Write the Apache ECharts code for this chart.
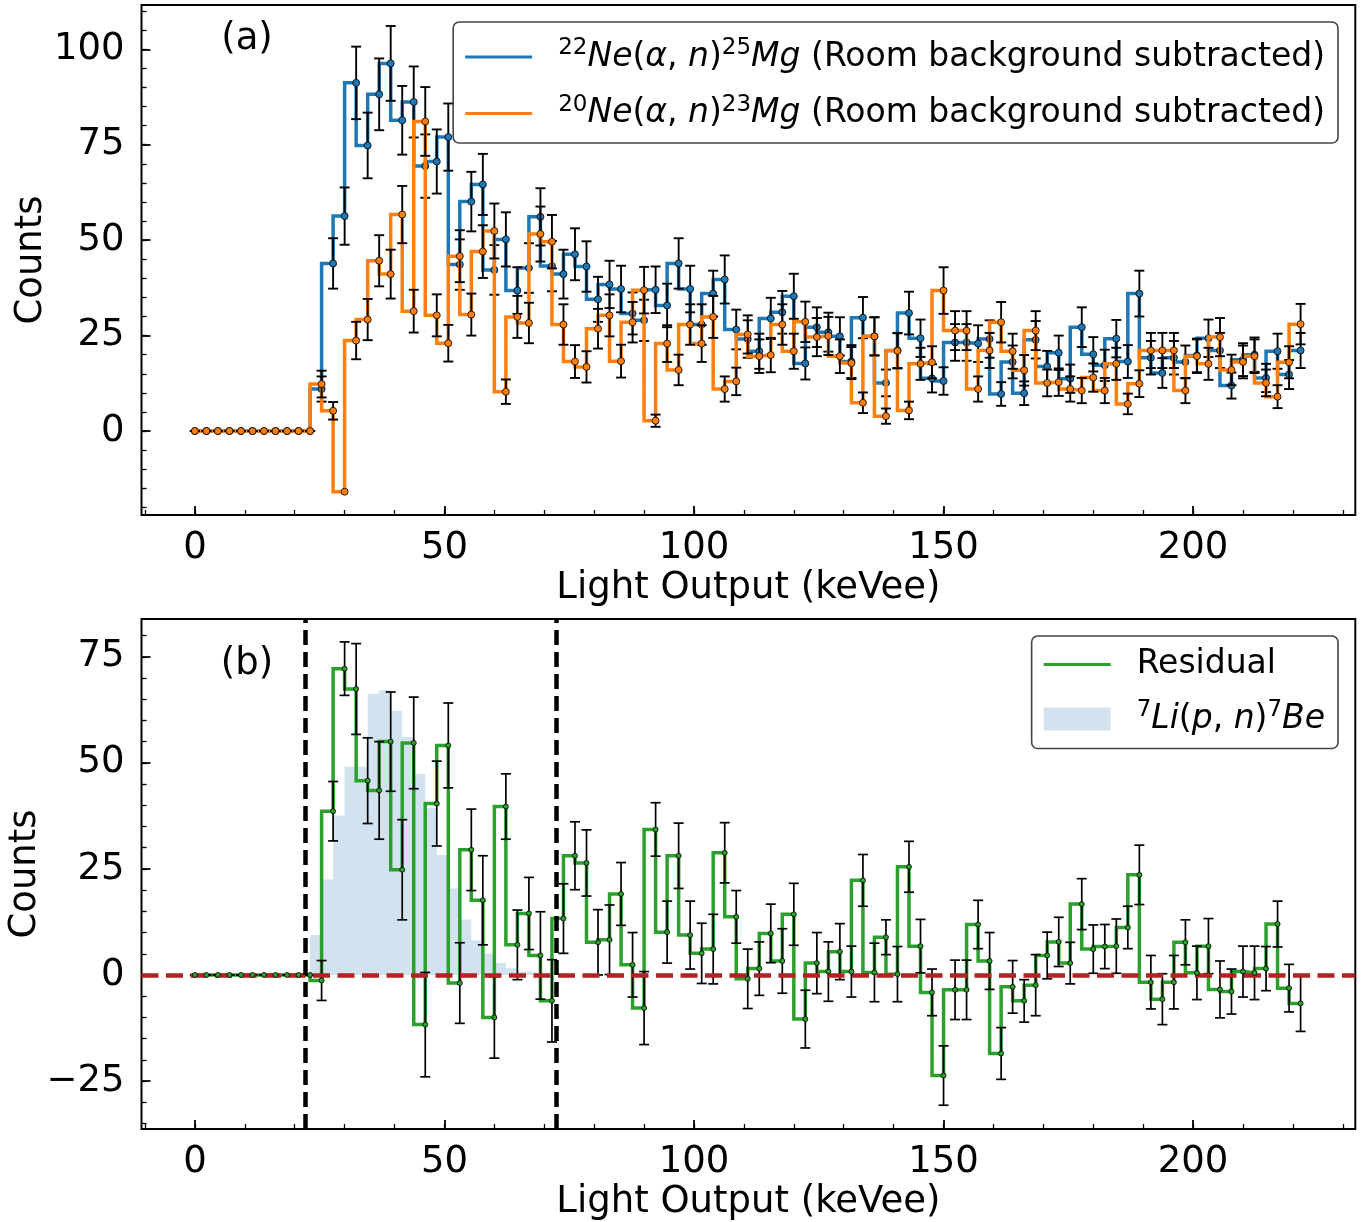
<!DOCTYPE html>
<html>
<head>
<meta charset="utf-8">
<script src="https://cdn.jsdelivr.net/npm/echarts@6/dist/echarts.min.js"></script>
<style>
html,body{margin:0;padding:0;background:#fff;}
#chart{width:1372px;height:1222px;}
</style>
</head>
<body>
<div id="chart"></div>
<script>
// ---------------- data ----------------
const binWidth = 2.3077; // keVee per bin

// 22Ne(a,n)25Mg, room background subtracted
const ne22Counts = [
  0, 0, 0, 0, 0, 0, 0, 0, 0, 0, 0,
  11.0, 43.9, 56.3, 91.2, 74.8, 88.2, 96.3, 81.4, 86.2, 69.4,
  70.6, 77.0, 43.6, 60.1, 64.6, 42.2, 50.2, 36.8, 42.7, 56.1,
  43.2, 41.1, 46.3, 43.1, 34.5, 38.4, 37.2, 30.8, 29.0, 37.0,
  32.9, 43.9, 37.2, 27.9, 36.0, 39.7, 26.6, 24.1, 20.9, 29.5,
  31.1, 35.3, 17.7, 27.2, 25.9, 24.8, 18.2, 29.7, 24.8, 12.6,
  21.1, 30.9, 24.3, 13.8, 13.1, 23.2, 23.2, 22.9, 24.1, 9.7,
  18.1, 9.9, 23.9, 16.9, 20.5, 13.7, 27.2, 20.1, 17.2, 24.2,
  18.2, 36.0, 19.2, 15.2, 19.2, 18.1, 19.8, 24.3, 21.1, 11.9,
  18.7, 20.0, 13.9, 20.9, 14.8, 21.1
];
const ne22Errors = [
  0, 0, 0, 0, 0, 0, 0, 0, 0, 0, 0,
  3.3, 6.6, 7.5, 9.5, 8.6, 9.4, 9.8, 9.0, 9.3, 8.3,
  8.4, 8.8, 6.6, 7.8, 8.0, 6.5, 7.1, 6.1, 6.5, 7.5,
  6.6, 6.4, 6.8, 6.6, 5.9, 6.2, 6.1, 5.5, 5.4, 6.1,
  5.7, 6.6, 6.1, 5.3, 6.0, 6.3, 5.2, 4.9, 4.6, 5.4,
  5.6, 5.9, 4.2, 5.2, 5.1, 5.0, 4.3, 5.4, 5.0, 3.5,
  4.6, 5.6, 4.9, 3.7, 3.6, 4.8, 4.8, 4.8, 4.9, 3.1,
  4.3, 3.1, 4.9, 4.1, 4.5, 3.7, 5.2, 4.5, 4.1, 4.9,
  4.3, 6.0, 4.4, 3.9, 4.4, 4.3, 4.4, 4.9, 4.6, 3.4,
  4.3, 4.5, 3.7, 4.6, 3.8, 4.6
];

// 20Ne(a,n)23Mg, room background subtracted
const ne20Counts = [
  0, 0, 0, 0, 0, 0, 0, 0, 0, 0, 0,
  12.3, 5.3, -15.9, 23.7, 29.2, 44.6, 41.1, 56.7, 31.4, 81.1,
  30.3, 23.0, 45.8, 30.5, 47.0, 52.4, 10.3, 29.9, 28.3, 51.6,
  49.6, 27.9, 18.2, 16.8, 26.8, 30.3, 18.3, 28.5, 36.9, 2.7,
  22.9, 16.0, 27.9, 22.9, 29.9, 11.0, 13.0, 25.3, 19.6, 19.9,
  27.9, 20.9, 28.6, 24.6, 24.9, 19.6, 17.8, 7.4, 24.8, 3.9,
  21.0, 5.4, 17.6, 18.0, 36.8, 26.3, 26.3, 11.0, 21.1, 28.5,
  20.9, 15.9, 26.3, 12.6, 12.8, 11.0, 10.6, 14.0, 10.6, 17.6,
  7.1, 12.4, 21.1, 21.1, 21.1, 10.6, 19.6, 17.6, 24.6, 16.0,
  18.1, 19.6, 12.6, 9.0, 18.0, 28.0
];
const ne20Errors = [
  0, 0, 0, 0, 0, 0, 0, 0, 0, 0, 0,
  3.5, 2.3, null, 4.9, 5.4, 6.7, 6.4, 7.5, 5.6, 9.0,
  5.5, 4.8, 6.8, 5.5, 6.9, 7.2, 3.2, 5.5, 5.3, 7.2,
  7.0, 5.3, 4.3, 4.1, 5.2, 5.5, 4.3, 5.3, 6.1, 1.6,
  4.8, 4.0, 5.3, 4.8, 5.5, 3.3, 3.6, 5.0, 4.4, 4.5,
  5.3, 4.6, 5.3, 5.0, 5.0, 4.4, 4.2, 2.7, 5.0, 2.0,
  4.6, 2.3, 4.2, 4.2, 6.1, 5.1, 5.1, 3.3, 4.6, 5.3,
  4.6, 4.0, 5.1, 3.5, 3.6, 3.3, 3.3, 3.7, 3.3, 4.2,
  2.7, 3.5, 4.6, 4.6, 4.6, 3.3, 4.4, 4.2, 5.0, 4.0,
  4.3, 4.4, 3.5, 3.0, 4.2, 5.3
];

// Residual (panel b)
const residualCounts = [
  0, 0, 0, 0, 0, 0, 0, 0, 0, 0, 0,
  -1.3, 38.6, 72.2, 67.4, 45.8, 43.5, 55.0, 24.8, 54.7, -11.7,
  40.4, 54.1, -1.9, 29.5, 17.6, -10.0, 39.7, 7.1, 14.5, 4.6,
  -6.1, 13.3, 28.1, 26.4, 7.7, 8.3, 19.1, 2.4, -7.8, 34.3,
  10.1, 28.1, 9.4, 5.1, 6.1, 28.8, 13.7, -0.9, 1.5, 9.8,
  3.3, 14.3, -10.4, 2.8, 0.8, 5.5, 0.8, 22.3, 0.6, 8.9,
  0.2, 25.5, 6.8, -4.1, -23.7, -3.5, -3.5, 11.9, 3.3, -18.5,
  -2.8, -6.1, -2.4, 4.6, 7.8, 2.8, 16.7, 6.1, 6.7, 6.8,
  11.2, 23.6, -1.7, -5.7, -1.7, 7.7, 0.5, 6.8, -3.4, -3.9,
  0.8, 0.5, 1.5, 12.0, -3.1, -6.7
];
const residualErrors = [
  0, 0, 0, 0, 0, 0, 0, 0, 0, 0, 0,
  4.7, 7.0, 6.3, 10.7, 10.1, 11.5, 11.7, 11.8, 10.8, 12.3,
  10.0, 10.0, 9.5, 9.6, 10.5, 9.6, 7.7, 8.2, 8.5, 10.3,
  9.7, 8.2, 8.0, 7.8, 7.7, 8.2, 7.4, 7.6, 8.6, 6.3,
  7.3, 7.7, 8.0, 7.1, 8.2, 7.1, 6.2, 7.0, 6.3, 6.9,
  7.6, 7.3, 6.8, 7.2, 7.0, 6.6, 6.0, 6.1, 6.9, 4.1,
  6.5, 6.0, 6.3, 5.5, 7.0, 7.0, 7.0, 5.7, 6.7, 6.1,
  6.2, 5.0, 7.2, 5.5, 5.8, 4.9, 6.0, 5.7, 5.2, 6.4,
  5.0, 7.0, 6.3, 6.0, 6.3, 5.3, 6.3, 6.5, 6.7, 5.3,
  6.0, 6.3, 5.2, 5.4, 5.6, 6.6
];

// 7Li(p,n)7Be reference shape (bins 0..32)
const li7Counts = [
  0, 0, 0, 0, 0, 0, 0, 0, 0, 0, 0,
  9.4, 22.5, 37.6, 49.1, 49.1, 66.3, 67.1, 62.3, 56.1, 47.4,
  39.3, 28.3, 20.4, 13.1, 8.1, 5.0, 2.8, 1.6, 0.8, 0.4,
  0.2, 0
];

// region boundaries (vertical dashed lines, keVee)
const regionBounds = [22.2, 72.5];

// ticks
const xTickValues = [0, 50, 100, 150, 200];
const xMinorTickValues = [-10, 0, 10, 20, 30, 40, 50, 60, 70, 80, 90, 100, 110, 120, 130, 140, 150, 160, 170, 180, 190, 200, 210, 220, 230];
const yTickValuesA = [0, 25, 50, 75, 100];
const yMinorTickValuesA = [-20, -15, -10, -5, 0, 5, 10, 15, 20, 25, 30, 35, 40, 45, 50, 55, 60, 65, 70, 75, 80, 85, 90, 95, 100, 105, 110];
const yTickValuesB = [-25, 0, 25, 50, 75];
const yMinorTickValuesB = [-35, -30, -25, -20, -15, -10, -5, 0, 5, 10, 15, 20, 25, 30, 35, 40, 45, 50, 55, 60, 65, 70, 75, 80];

// ---------------- chart ----------------
const F = 'DejaVu Sans';
const lightOutput = ne22Counts.map((_, i) => Math.round(i * binWidth * 10000) / 10000);

const NAME_NE22 = '22Ne(α,n)25Mg (Room background subtracted)';
const NAME_NE20 = '20Ne(α,n)23Mg (Room background subtracted)';
const NAME_RES = 'Residual';
const NAME_LI = '7Li(p,n)7Be';

const X_RANGE = [-10.7, 232.5];
const Y_RANGE_A = [-22.0, 111.6];
const Y_RANGE_B = [-36.3, 83.9];

function fmtTick(v) { return v < 0 ? '\u2212' + Math.abs(v) : String(v); }

function xAxesFor(gridIndex) {
  return [
    {
      gridIndex, type: 'value', min: X_RANGE[0], max: X_RANGE[1], position: 'bottom',
      axisLine: { show: false, onZero: false }, splitLine: { show: false },
      axisTick: { show: true, inside: true, length: 9, customValues: xTickValues, lineStyle: { color: '#000', width: 1.8 } },
      axisLabel: { show: true, customValues: xTickValues, formatter: fmtTick, fontSize: 37, fontFamily: F, color: '#000', margin: 15 },
      name: 'Light Output (keVee)', nameLocation: 'middle', nameGap: 55,
      nameTextStyle: { fontSize: 37, fontFamily: F, color: '#000' }
    },
    {
      gridIndex, type: 'value', min: X_RANGE[0], max: X_RANGE[1], position: 'bottom',
      axisLine: { show: false, onZero: false }, splitLine: { show: false },
      axisTick: { show: true, inside: true, length: 5, customValues: xMinorTickValues, lineStyle: { color: '#000', width: 1.3 } },
      axisLabel: { show: false }
    }
  ];
}
function yAxesFor(gridIndex, range, major, minor, gap) {
  return [
    {
      gridIndex, type: 'value', min: range[0], max: range[1], position: 'left',
      axisLine: { show: false, onZero: false }, splitLine: { show: false },
      axisTick: { show: true, inside: true, length: 9, customValues: major, lineStyle: { color: '#000', width: 1.8 } },
      axisLabel: { show: true, customValues: major, formatter: fmtTick, fontSize: 37, fontFamily: F, color: '#000', margin: 17 },
      name: 'Counts', nameLocation: 'middle', nameGap: gap, nameRotate: 90, nameMoveOverlap: false,
      nameTextStyle: { fontSize: 37, fontFamily: F, color: '#000' }
    },
    {
      gridIndex, type: 'value', min: range[0], max: range[1], position: 'left',
      axisLine: { show: false, onZero: false }, splitLine: { show: false },
      axisTick: { show: true, inside: true, length: 5, customValues: minor, lineStyle: { color: '#000', width: 1.3 } },
      axisLabel: { show: false }
    }
  ];
}

function errorBarRenderer(cap, width) {
  return function (params, api) {
    const x = api.value(0), y = api.value(1), e = api.value(2);
    if (!(e >= 0)) return { type: 'group', children: [] };
    const hi = api.coord([x, y + e]);
    const lo = api.coord([x, y - e]);
    const style = { stroke: '#000', lineWidth: width, fill: null };
    return {
      type: 'group',
      children: [
        { type: 'line', shape: { x1: hi[0], y1: hi[1], x2: lo[0], y2: lo[1] }, style },
        { type: 'line', shape: { x1: hi[0] - cap, y1: hi[1], x2: hi[0] + cap, y2: hi[1] }, style },
        { type: 'line', shape: { x1: lo[0] - cap, y1: lo[1], x2: lo[0] + cap, y2: lo[1] }, style }
      ]
    };
  };
}

function histSeries(name, counts, errors, color, xi, yi, z, opts) {
  const pts = counts.map((v, i) => [lightOutput[i], v]);
  const err = counts.map((v, i) => [lightOutput[i], v, errors[i]]);
  return [
    {
      name, type: 'line', xAxisIndex: xi, yAxisIndex: yi, step: 'start', data: pts,
      symbol: 'none', showSymbol: false, silent: true, z: z,
      itemStyle: { color }, lineStyle: { color, width: opts.lw, join: 'miter' }
    },
    {
      name: name + ' err', type: 'custom', xAxisIndex: xi, yAxisIndex: yi, data: err, silent: true, z: z + 1,
      dimensions: ['x', 'y', 'e'], encode: { x: 0, y: 1 },
      renderItem: errorBarRenderer(opts.cap, opts.ew)
    },
    {
      name: name + ' pts', type: 'scatter', xAxisIndex: xi, yAxisIndex: yi, data: pts, silent: true, z: z + 2,
      symbol: 'circle', symbolSize: opts.ms,
      itemStyle: { color, borderColor: '#000', borderWidth: 0.8, opacity: 1 }
    }
  ];
}

const rich = {
  rm: { fontSize: 33, fontFamily: F, color: '#000', lineHeight: 40 },
  it: { fontSize: 33, fontFamily: F, color: '#000', fontStyle: 'italic', lineHeight: 40 },
  sup: { fontSize: 23, fontFamily: F, color: '#000', lineHeight: 18, verticalAlign: 'top' }
};
const legendLabels = {};
legendLabels[NAME_NE22] = '{sup|22}{it|Ne}{rm|(}{it|α}{rm|, }{it|n}{rm|)}{sup|25}{it|Mg}{rm| (Room background subtracted)}';
legendLabels[NAME_NE20] = '{sup|20}{it|Ne}{rm|(}{it|α}{rm|, }{it|n}{rm|)}{sup|23}{it|Mg}{rm| (Room background subtracted)}';
legendLabels[NAME_RES] = '{rm|Residual}';
legendLabels[NAME_LI] = '{sup|7}{it|Li}{rm|(}{it|p}{rm|, }{it|n}{rm|)}{sup|7}{it|Be}';

// legend handle: a 3 px line centred in the item box (thin invisible slivers fix the box size)
const lineHandle = h => 'path://M0,0h67v0.01h-67zM0,' + (h / 2 - 1.6) + 'h67v3.2h-67zM0,' + (h - 0.01) + 'h67v0.01h-67z';

const topOpts = { lw: 3.5, cap: 5, ew: 1.9, ms: 7 };
const botOpts = { lw: 3.5, cap: 5, ew: 1.7, ms: 5 };

const series = [].concat(
  histSeries(NAME_NE22, ne22Counts, ne22Errors, '#1f77b4', 0, 0, 2, topOpts),
  histSeries(NAME_NE20, ne20Counts, ne20Errors, '#ff7f0e', 0, 0, 5, topOpts),
  [{
    name: NAME_LI, type: 'line', xAxisIndex: 2, yAxisIndex: 2, step: 'start',
    data: li7Counts.map((v, i) => [lightOutput[i], v]),
    symbol: 'none', showSymbol: false, silent: true, z: 1,
    itemStyle: { color: '#d2e3ef' },
    lineStyle: { width: 0, opacity: 0 },
    areaStyle: { color: '#d2e3ef', opacity: 1 }
  }],
  histSeries(NAME_RES, residualCounts, residualErrors, '#2ca02c', 2, 2, 2, botOpts).map((s, k) => {
    if (k === 1) s.z = 4; if (k === 2) s.z = 5; return s;
  }),
  [{
    name: 'zero', type: 'line', xAxisIndex: 2, yAxisIndex: 2, data: [], silent: true, z: 3,
    markLine: {
      symbol: ['none', 'none'], silent: true, animation: false, label: { show: false },
      lineStyle: { color: '#b22222', width: 4.5, type: [17, 7.5], opacity: 1 },
      data: [{ yAxis: 0 }]
    }
  },
  {
    name: 'bounds', type: 'line', xAxisIndex: 2, yAxisIndex: 2, data: [], silent: true, z: 6,
    markLine: {
      symbol: ['none', 'none'], silent: true, animation: false, label: { show: false },
      lineStyle: { color: '#000', width: 4.5, type: [15, 7], opacity: 1 },
      data: regionBounds.map(v => ({ xAxis: v }))
    }
  }]
);

const legendCommon = {
  orient: 'vertical', align: 'left', selectedMode: false, z: 20,
  backgroundColor: '#fff', borderColor: '#444', borderWidth: 1.6, borderRadius: 6,
  itemWidth: 67,
  formatter: name => legendLabels[name] || name,
  textStyle: { fontFamily: F, fontSize: 33, color: '#000', padding: [0, 0, 0, 21], rich }
};

const option = {
  animation: false,
  backgroundColor: '#fff',
  grid: [
    { left: 141.5, top: 5, width: 1213.8, height: 510, show: true, borderColor: '#000', borderWidth: 2, backgroundColor: 'transparent', outerBoundsMode: 'none' },
    { left: 141.5, top: 619, width: 1213.8, height: 510, show: true, borderColor: '#000', borderWidth: 2, backgroundColor: 'transparent', outerBoundsMode: 'none' }
  ],
  xAxis: [].concat(xAxesFor(0), xAxesFor(1)),
  yAxis: [].concat(
    yAxesFor(0, Y_RANGE_A, yTickValuesA, yMinorTickValuesA, 92),
    yAxesFor(1, Y_RANGE_B, yTickValuesB, yMinorTickValuesB, 98)
  ),
  legend: [
    Object.assign({}, legendCommon, {
      right: 34, top: 22, padding: [15, 13, 13, 12], itemHeight: 14, itemGap: 20,
      data: [{ name: NAME_NE22, icon: lineHandle(14) }, { name: NAME_NE20, icon: lineHandle(14) }]
    }),
    Object.assign({}, legendCommon, {
      right: 34, top: 636, padding: [12, 13, 13, 12], itemHeight: 23, itemGap: 18,
      data: [{ name: NAME_RES, icon: lineHandle(23) }, { name: NAME_LI, icon: 'rect' }]
    })
  ],
  graphic: [
    { type: 'text', x: 247, y: 39, z: 30, style: { text: '(a)', fontSize: 37, fontFamily: F, fill: '#000', align: 'center', verticalAlign: 'middle' } },
    { type: 'text', x: 247, y: 664, z: 30, style: { text: '(b)', fontSize: 37, fontFamily: F, fill: '#000', align: 'center', verticalAlign: 'middle' } }
  ],
  series
};

const chart = echarts.init(document.getElementById('chart'), null, { renderer: 'canvas' });
chart.setOption(option);
</script>
</body>
</html>
